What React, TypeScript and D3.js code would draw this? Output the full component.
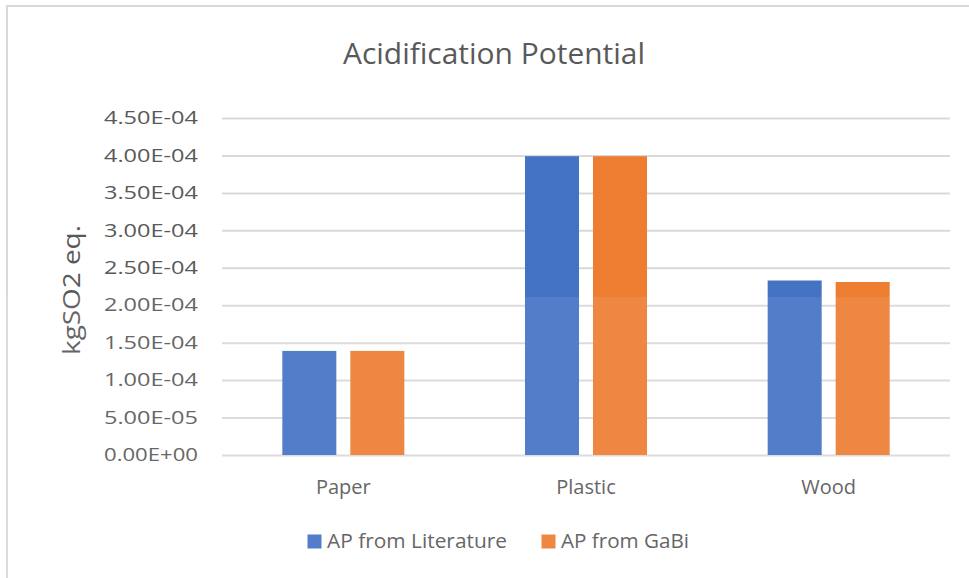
import React, { useEffect, useRef } from "react";
import * as d3 from "d3";

const categories = ["Paper", "Plastic", "Wood"];
const seriesNames = ["AP from Literature", "AP from GaBi"];
const literature = [1.39e-4, 3.99e-4, 2.33e-4];
const gabi = [1.39e-4, 3.99e-4, 2.31e-4];
const yTicks = [0, 5e-5, 1e-4, 1.5e-4, 2e-4, 2.5e-4, 3e-4, 3.5e-4, 4e-4, 4.5e-4];
const colors = ["#4472C4", "#ED7D31"];

const W = 969;
const H = 578;
const FONT = "'Open Sans', 'DejaVu Sans', sans-serif";

function fmt(v: number) {
  if (v === 0) return "0.00E+00";
  const e = Math.floor(Math.log10(v) + 1e-9);
  const m = v / Math.pow(10, e);
  const sign = e < 0 ? "-" : "+";
  const ee = String(Math.abs(e)).padStart(2, "0");
  return `${m.toFixed(2)}E${sign}${ee}`;
}

export default function App() {
  const ref = useRef<SVGSVGElement>(null);

  useEffect(() => {
    const svg = d3.select(ref.current);
    svg.selectAll("*").remove();

    const left = 222, right = 950, top = 118, bottom = 455;

    // chart frame
    svg.append("rect").attr("x", 0).attr("y", 0).attr("width", W).attr("height", H).attr("fill", "#fff");
    svg.append("rect").attr("x", 7).attr("y", 6).attr("width", 1000).attr("height", 700)
      .attr("fill", "none").attr("stroke", "#d9d9d9").attr("stroke-width", 2);

    const y = d3.scaleLinear().domain([0, 4.5e-4]).range([bottom, top]);
    const x0 = d3.scaleBand<string>().domain(categories).range([left, right]).padding(0);
    const groupW = 122;
    const x1 = d3.scaleBand<string>().domain(seriesNames).range([0, groupW]).paddingInner(14 / 68).paddingOuter(0);

    // gridlines
    const yAxis = d3.axisLeft(y).tickValues(yTicks).tickSize(-(right - left)).tickFormat((d) => fmt(+d)).tickPadding(24);
    const ga = svg.append("g").attr("transform", `translate(${left},0)`).call(yAxis);
    ga.select(".domain").remove();
    ga.selectAll(".tick line").attr("stroke", "#d9d9d9").attr("stroke-width", 2);
    ga.selectAll(".tick text")
      .attr("fill", "#595959").attr("font-size", 18).attr("font-family", FONT)
      .attr("textLength", 94).attr("lengthAdjust", "spacingAndGlyphs");

    // bars
    const data = categories.map((c, i) => ({ c, vals: [literature[i], gabi[i]] }));
    const g = svg.append("g");
    data.forEach((d) => {
      const gx = (x0(d.c) as number) + (x0.bandwidth() - groupW) / 2;
      d.vals.forEach((v, j) => {
        g.append("rect")
          .attr("x", gx + (x1(seriesNames[j]) as number))
          .attr("y", y(v))
          .attr("width", x1.bandwidth())
          .attr("height", y(0) - y(v))
          .attr("fill", colors[j]);
      });
    });

    // category labels
    categories.forEach((c) => {
      svg.append("text")
        .attr("x", (x0(c) as number) + x0.bandwidth() / 2)
        .attr("y", 494)
        .attr("text-anchor", "middle")
        .attr("fill", "#595959").attr("font-size", 20).attr("font-family", FONT)
        .text(c);
    });

    // title
    svg.append("text")
      .attr("x", 494).attr("y", 64).attr("text-anchor", "middle")
      .attr("fill", "#595959").attr("font-size", 30).attr("font-family", FONT)
      .attr("textLength", 302).attr("lengthAdjust", "spacingAndGlyphs")
      .text("Acidification  Potential");

    // y axis title
    svg.append("text")
      .attr("transform", "translate(80,290) rotate(-90)")
      .attr("text-anchor", "middle")
      .attr("fill", "#595959").attr("font-size", 23).attr("font-family", FONT)
      .attr("textLength", 130).attr("lengthAdjust", "spacingAndGlyphs")
      .text("kgSO2 eq.");

    // legend
    const legendItems = [
      { name: seriesNames[0], sx: 307.5, tx: 327, tw: 180 },
      { name: seriesNames[1], sx: 541.5, tx: 561, tw: 128 },
    ];
    legendItems.forEach((it, i) => {
      svg.append("rect").attr("x", it.sx).attr("y", 534.5).attr("width", 14).attr("height", 14).attr("fill", colors[i]);
      svg.append("text")
        .attr("x", it.tx).attr("y", 548)
        .attr("fill", "#595959").attr("font-size", 20).attr("font-family", FONT)
        .attr("textLength", it.tw).attr("lengthAdjust", "spacingAndGlyphs")
        .text(it.name);
    });

    // faint watermark wash over lower part
    svg.append("rect").attr("x", 0).attr("y", 297).attr("width", W).attr("height", H - 297)
      .attr("fill", "#ffffff").attr("opacity", 0.08).attr("pointer-events", "none");
  }, []);

  return (
    <svg
      ref={ref}
      width={W}
      height={H}
      style={{ position: "absolute", left: 0, top: 0, display: "block" }}
    />
  );
}
